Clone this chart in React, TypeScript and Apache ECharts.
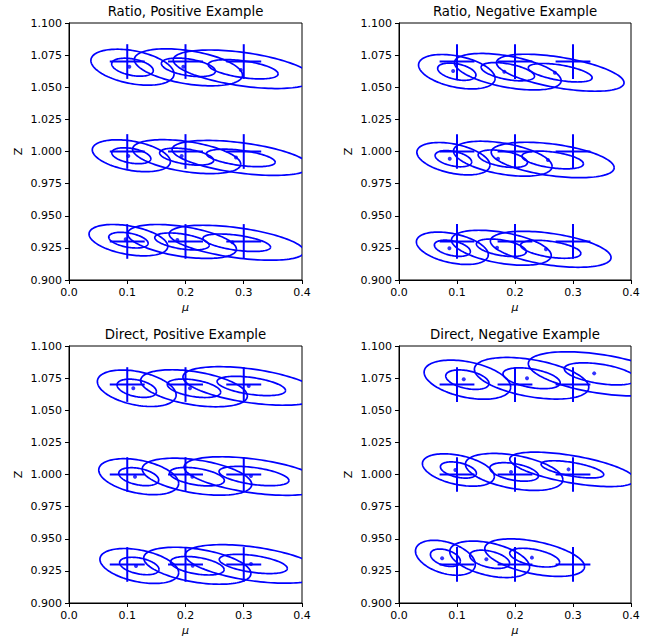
import React, { useEffect, useRef } from "react";
import * as echarts from "echarts";

// True parameter values (cross centres) and their error half-widths
const MU_TRUE = [0.1, 0.2, 0.3];
const Z_TRUE = [1.07, 1.0, 0.93];
const MU_ERR = 0.03;
const Z_ERR = 0.0135;

const X_TICKS = [0, 0.1, 0.2, 0.3, 0.4];
const Y_MIN = 0.9;
const Y_MAX = 1.1;
const Y_STEP = 0.025;

const TITLES = [
  "Ratio, Positive Example",
  "Ratio, Negative Example",
  "Direct, Positive Example",
  "Direct, Negative Example",
];

// Estimated points [mu, Z] (row order: Z=1.07, 1.00, 0.93; columns mu=0.1, 0.2, 0.3)
const ratioPosPts = [[0.1035, 1.066], [0.1962, 1.066], [0.295, 1.0634], [0.1018, 0.9965], [0.1934, 0.9965], [0.2867, 0.9953], [0.0973, 0.9317], [0.186, 0.9311], [0.2804, 0.9293]];
const ratioNegPts = [[0.0933, 1.0626], [0.1816, 1.0621], [0.2688, 1.0613], [0.0875, 0.9944], [0.1707, 0.9944], [0.2568, 0.9934], [0.0869, 0.9247], [0.169, 0.9251], [0.2534, 0.9239]];
const directPosPts = [[0.1104, 1.0671], [0.2077, 1.0671], [0.3085, 1.0689], [0.1133, 0.9983], [0.2117, 0.9983], [0.3124, 0.9988], [0.115, 0.9288], [0.2123, 0.929], [0.3124, 0.9304]];
const directNegPts = [[0.1116, 1.0741], [0.2207, 1.0749], [0.3365, 1.0787], [0.0972, 1.0035], [0.1931, 1.002], [0.2923, 1.004], [0.0743, 0.9348], [0.1506, 0.934], [0.2292, 0.9353]];

// Ellipse centres [mu, Z]
const ratioPosCtr = [[0.109, 1.0656], [0.205, 1.0655], [0.299, 1.064], [0.107, 0.9967], [0.202, 0.996], [0.295, 0.995], [0.102, 0.931], [0.194, 0.930], [0.288, 0.929]];
const ratioNegCtr = [[0.0997, 1.0621], [0.1876, 1.0621], [0.278, 1.0613], [0.0938, 0.9944], [0.179, 0.9944], [0.265, 0.9934], [0.092, 0.9247], [0.1765, 0.9251], [0.2616, 0.9239]];
const directPosCtr = [[0.1163, 1.0671], [0.2146, 1.0671], [0.313, 1.0689], [0.1197, 0.9983], [0.2197, 0.9983], [0.3176, 0.9988], [0.1207, 0.9288], [0.2203, 0.929], [0.3164, 0.9304]];
const directNegCtr = [[0.1179, 1.0738], [0.2286, 1.0749], [0.347, 1.0783], [0.1024, 1.0035], [0.1985, 1.002], [0.299, 1.004], [0.08, 0.9352], [0.1563, 0.934], [0.2339, 0.9353]];

// Inner (1-sigma) ellipse: half-width in mu
const ratioPosA = [0.0357, 0.0464, 0.06, 0.0335, 0.0464, 0.059, 0.0338, 0.0467, 0.058];
const ratioNegA = [0.033, 0.046, 0.055, 0.0315, 0.0425, 0.053, 0.031, 0.043, 0.052];
const directPosA = [0.0338, 0.0458, 0.0587, 0.0343, 0.047, 0.06, 0.0338, 0.046, 0.0584];
const directNegA = [0.0373, 0.0493, 0.062, 0.031, 0.042, 0.054, 0.0258, 0.0344, 0.043];

// Inner ellipse: half-height in Z
const ratioPosH = [0.007, 0.0072, 0.0075, 0.0062, 0.0066, 0.0068, 0.0061, 0.0066, 0.0068];
const ratioNegH = [0.0067, 0.0071, 0.0072, 0.0063, 0.0068, 0.0069, 0.0063, 0.0068, 0.007];
const directPosH = [0.0071, 0.0072, 0.0075, 0.007, 0.0072, 0.0075, 0.0068, 0.0072, 0.0075];
const directNegH = [0.0076, 0.0081, 0.0086, 0.0063, 0.0072, 0.0067, 0.0068, 0.0071, 0.0073];

// Inner ellipse: Z offset of the right-most point (tilt)
const ratioPosT = [-0.0026, -0.003, -0.0036, -0.0023, -0.0029, -0.0033, -0.0024, -0.003, -0.0034];
const ratioNegT = [-0.0026, -0.0035, -0.0039, -0.0025, -0.003, -0.003, -0.0025, -0.003, -0.0032];
const directPosT = [-0.0026, -0.003, -0.0035, -0.0026, -0.003, -0.0035, -0.0026, -0.003, -0.0035];
const directNegT = [-0.0029, -0.0035, -0.004, -0.0025, -0.003, -0.004, -0.0026, -0.003, -0.0035];

const SIGMA_SCALES = [1, 2];

const PANELS = [
  { pts: ratioPosPts, ctr: ratioPosCtr, a: ratioPosA, h: ratioPosH, t: ratioPosT },
  { pts: ratioNegPts, ctr: ratioNegCtr, a: ratioNegA, h: ratioNegH, t: ratioNegT },
  { pts: directPosPts, ctr: directPosCtr, a: directPosA, h: directPosH, t: directPosT },
  { pts: directNegPts, ctr: directNegCtr, a: directNegA, h: directNegH, t: directNegT },
];

const BLUE = "#0000ff";
const FONT = "DejaVu Sans";

const GRIDS = [
  { left: 69, top: 23, width: 233, height: 257 },
  { left: 399, top: 23, width: 232, height: 257 },
  { left: 69, top: 346, width: 233, height: 257 },
  { left: 399, top: 346, width: 232, height: 257 },
];

function buildOption() {
  const grid: any[] = [];
  const xAxis: any[] = [];
  const yAxis: any[] = [];
  const series: any[] = [];
  const graphic: any[] = [];

  GRIDS.forEach((g, i) => {
    grid.push({
      left: g.left,
      top: g.top,
      width: g.width,
      height: g.height,
      show: true,
      borderColor: "#000",
      borderWidth: 1,
      backgroundColor: "transparent",
      containLabel: false,
    });
    xAxis.push({
      type: "value",
      gridIndex: i,
      min: X_TICKS[0],
      max: X_TICKS[X_TICKS.length - 1],
      interval: 0.1,
      splitLine: { show: false },
      axisLine: { show: true, onZero: false, lineStyle: { color: "#000", width: 1 } },
      axisTick: { show: true, inside: false, length: 4, lineStyle: { color: "#000" } },
      axisLabel: {
        show: true,
        margin: 7,
        color: "#000",
        fontFamily: FONT,
        fontSize: 11,
        formatter: (v: number) => v.toFixed(1),
      },
    });
    yAxis.push({
      type: "value",
      gridIndex: i,
      min: Y_MIN,
      max: Y_MAX,
      interval: Y_STEP,
      splitLine: { show: false },
      axisLine: { show: true, onZero: false, lineStyle: { color: "#000", width: 1 } },
      axisTick: { show: true, inside: false, length: 4, lineStyle: { color: "#000" } },
      axisLabel: {
        show: true,
        margin: 7,
        color: "#000",
        fontFamily: FONT,
        fontSize: 11,
        formatter: (v: number) => v.toFixed(3),
      },
    });

    const p = PANELS[i];
    const ellData: any[] = [];
    SIGMA_SCALES.forEach((s) => {
      p.ctr.forEach((c, k) => {
        ellData.push([c[0], c[1], p.a[k], p.h[k], p.t[k], s]);
      });
    });
    series.push({
      type: "custom",
      xAxisIndex: i,
      yAxisIndex: i,
      clip: true,
      silent: true,
      encode: { x: 0, y: 1 },
      data: ellData,
      renderItem: (params: any, api: any) => {
        const cx = api.value(0);
        const cz = api.value(1);
        const a = api.value(2);
        const h = api.value(3);
        const t = api.value(4);
        const s = api.value(5);
        const b = Math.sqrt(Math.max(h * h - t * t, 1e-12));
        const pts: number[][] = [];
        const N = 120;
        for (let k = 0; k <= N; k++) {
          const th = (2 * Math.PI * k) / N;
          const x = cx + s * a * Math.cos(th);
          const z = cz + s * (t * Math.cos(th) + b * Math.sin(th));
          pts.push(api.coord([x, z]));
        }
        return {
          type: "polyline",
          shape: { points: pts },
          style: { stroke: BLUE, fill: null, lineWidth: 1.7 },
        };
      },
    });

    const crossData: any[] = [];
    Z_TRUE.forEach((z) => {
      MU_TRUE.forEach((m) => {
        crossData.push([m, z, MU_ERR, Z_ERR]);
      });
    });
    series.push({
      type: "custom",
      xAxisIndex: i,
      yAxisIndex: i,
      clip: true,
      silent: true,
      encode: { x: 0, y: 1 },
      data: crossData,
      renderItem: (params: any, api: any) => {
        const m = api.value(0);
        const z = api.value(1);
        const dm = api.value(2);
        const dz = api.value(3);
        const l = api.coord([m - dm, z]);
        const r = api.coord([m + dm, z]);
        const tp = api.coord([m, z + dz]);
        const bt = api.coord([m, z - dz]);
        return {
          type: "group",
          children: [
            { type: "line", shape: { x1: l[0], y1: l[1], x2: r[0], y2: r[1] }, style: { stroke: BLUE, lineWidth: 2 } },
            { type: "line", shape: { x1: tp[0], y1: tp[1], x2: bt[0], y2: bt[1] }, style: { stroke: BLUE, lineWidth: 2 } },
          ],
        };
      },
    });

    series.push({
      type: "scatter",
      xAxisIndex: i,
      yAxisIndex: i,
      symbol: "circle",
      symbolSize: 4,
      silent: true,
      itemStyle: { color: BLUE },
      data: p.pts,
    });

    const cx = g.left + g.width / 2;
    graphic.push({
      type: "text",
      x: cx,
      y: g.top - 11.5,
      style: {
        text: TITLES[i],
        fill: "#000",
        font: `13.3px "${FONT}"`,
        textAlign: "center",
        textVerticalAlign: "middle",
      },
    });
    graphic.push({
      type: "text",
      x: cx,
      y: g.top + g.height + 27,
      style: {
        text: "μ",
        fill: "#000",
        font: `italic 11px "${FONT}"`,
        textAlign: "center",
        textVerticalAlign: "middle",
      },
    });
    graphic.push({
      type: "text",
      x: g.left - 51,
      y: g.top + g.height / 2,
      rotation: Math.PI / 2,
      style: {
        text: "Z",
        fill: "#000",
        font: `11px "${FONT}"`,
        textAlign: "center",
        textVerticalAlign: "middle",
      },
    });
  });

  return {
    animation: false,
    backgroundColor: "#fff",
    grid,
    xAxis,
    yAxis,
    series,
    graphic,
  };
}

export default function App() {
  const ref = useRef<HTMLDivElement>(null);
  useEffect(() => {
    if (!ref.current) return;
    const chart = echarts.init(ref.current, undefined, { renderer: "svg" });
    chart.setOption(buildOption() as any);
    return () => chart.dispose();
  }, []);
  return (
    <div
      ref={ref}
      style={{ position: "absolute", left: 0, top: 0, width: 661, height: 641 }}
    />
  );
}
